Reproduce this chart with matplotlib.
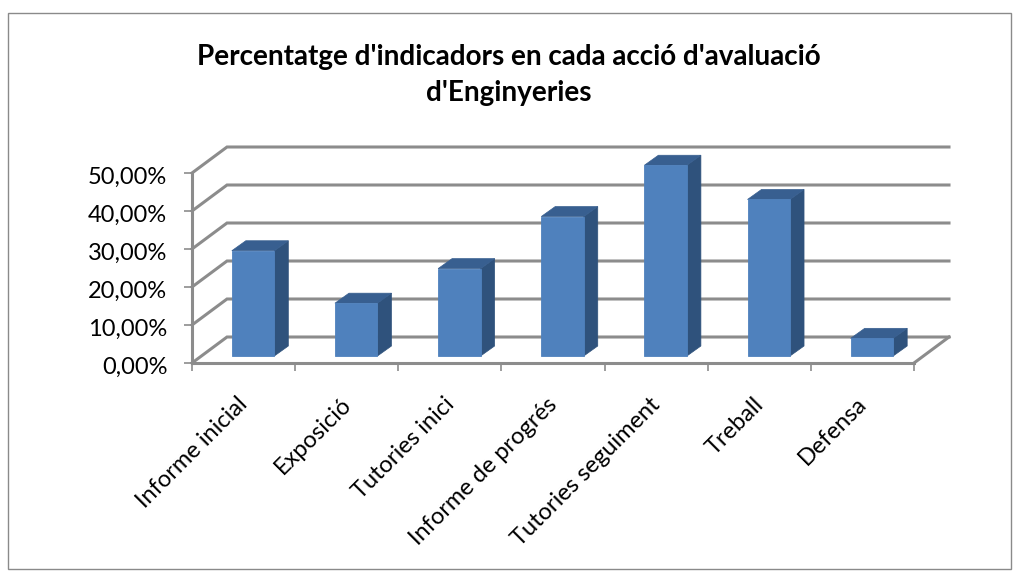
import numpy as np
import matplotlib
matplotlib.use('Agg')
import matplotlib.pyplot as plt
from matplotlib.patches import Rectangle
from matplotlib.transforms import Affine2D

plt.rcParams['font.family'] = ['Lato', 'DejaVu Sans']

TITLE = "Percentatge d'indicadors en cada acció d'avaluació\nd'Enginyeries"
categories = ['Informe inicial', 'Exposició', 'Tutories inici', 'Informe de progrés',
              'Tutories seguiment', 'Treball', 'Defensa']
values = [27.7, 13.9, 23.0, 36.7, 50.2, 41.2, 4.65]
y_ticks = [0, 10, 20, 30, 40, 50]
y_labels = ['0,00%', '10,00%', '20,00%', '30,00%', '40,00%', '50,00%']

W, H = 1020, 580
GRID = '#8c8c8c'
FRONT = '#4f81bd'
SIDE = '#2f527c'
TOP = '#385f90'

fig = plt.figure(figsize=(W / 100, H / 100), dpi=100)
fig.patch.set_facecolor('white')

# chart frame
fig.add_artist(Rectangle((8.5 / W, 1 - 568.5 / H), 1003 / W, 556 / H, transform=fig.transFigure,
                         facecolor='none', edgecolor='#8a8a8a', linewidth=1.0))

ax = fig.add_axes([192 / W, (H - 363) / H, 722 / W, 190 / H])
ax.set_xlim(0, 7)
ax.set_ylim(0, 50)
ax.patch.set_visible(False)

# pixel sizes of the fake 3D depth
px_x = 722 / 7
px_y = 190 / 50
back_dx, back_dy = 35 / px_x, 26 / px_y
bar_dx, bar_dy = 14 / px_x, 10 / px_y
front_tr = ax.transData + Affine2D().translate(9.5, 7)

# walls
for v in y_ticks:
    ax.plot([0, back_dx, 7 + back_dx], [v, v + back_dy, v + back_dy], color=GRID, lw=2.2,
            clip_on=False, zorder=1, solid_joinstyle='miter')
ax.plot([7, 7 + back_dx], [0, back_dy], color=GRID, lw=2.2, clip_on=False, zorder=1)

# bars
x = np.arange(len(values)) + 0.5
bar_w = 42.5 / px_x
ax.bar(x, values, width=bar_w, color=FRONT, edgecolor=FRONT, linewidth=0.6,
       transform=front_tr, clip_on=False, zorder=4)
for xi, v in zip(x, values):
    l, r = xi - bar_w / 2, xi + bar_w / 2
    ax.fill([r, r + bar_dx, r + bar_dx, r], [0, bar_dy, v + bar_dy, v], color=SIDE, lw=0.5,
            transform=front_tr, clip_on=False, zorder=3)
    ax.fill([l, l + bar_dx, r + bar_dx, r], [v, v + bar_dy, v + bar_dy, v], color=TOP, lw=0.5,
            transform=front_tr, clip_on=False, zorder=3)

# axes
for s in ['top', 'right']:
    ax.spines[s].set_visible(False)
for s in ['left', 'bottom']:
    ax.spines[s].set_color(GRID)
    ax.spines[s].set_linewidth(2.2)
    ax.spines[s].set_zorder(2)

ax.set_yticks(y_ticks, y_labels, fontsize=17)
ax.set_xticks(range(8), [''] * 8)
ax.set_xticks(x, categories, minor=True, fontsize=17, rotation=45, ha='right',
              va='top', rotation_mode='anchor')
ax.tick_params(axis='y', which='major', length=5.8, width=1.2, color=GRID, pad=12)
ax.tick_params(axis='x', which='major', length=5.8, width=1.2, color=GRID, pad=4)
ax.tick_params(axis='x', which='minor', length=0, pad=9)

# nudge labels to where Excel put them
for lbl in ax.get_xticklabels(minor=True):
    lbl.set_transform(lbl.get_transform() + Affine2D().translate(-6.5, -18))
for lbl in ax.get_yticklabels():
    lbl.set_transform(lbl.get_transform() + Affine2D().translate(0, -2.5))

fig.text(509 / W, 1 - 56.5 / H, TITLE.split('\n')[0], ha='center', va='center',
         fontsize=20.1, fontweight='bold', color='black')
fig.text(509 / W, 1 - 93.5 / H, TITLE.split('\n')[1], ha='center', va='center',
         fontsize=20.1, fontweight='bold', color='black')

fig.savefig('out.png', dpi=100)
